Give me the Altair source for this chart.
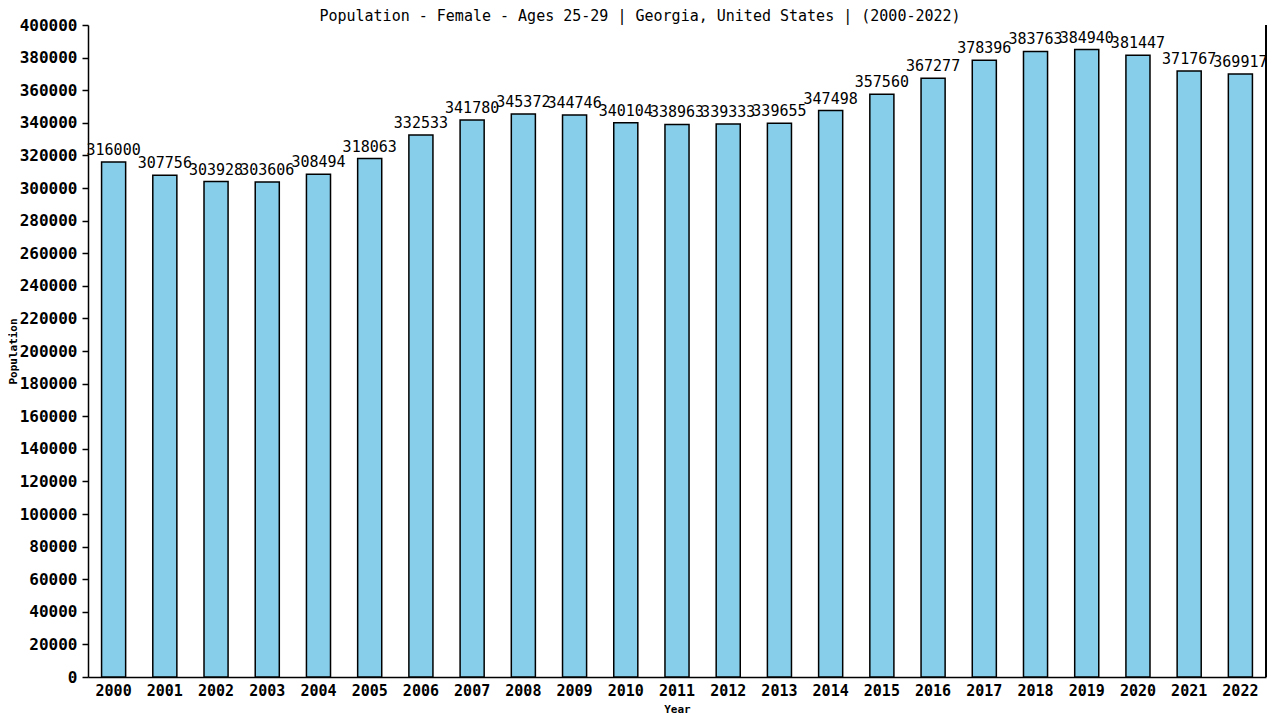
import altair as alt
import pandas as pd

years = [str(y) for y in range(2000, 2023)]
population = [316000, 307756, 303928, 303606, 308494, 318063, 332533, 341780,
              345372, 344746, 340104, 338963, 339333, 339655, 347498, 357560,
              367277, 378396, 383763, 384940, 381447, 371767, 369917]
y_ticks = list(range(0, 400001, 20000))

df = pd.DataFrame({"Year": years, "Population": population})

FONT = "DejaVu Sans Mono"
W, H = 1178, 652

base = alt.Chart(df).encode(
    x=alt.X("Year:N", sort=years,
            scale=alt.Scale(paddingInner=0.53, paddingOuter=0.265),
            axis=alt.Axis(title="Year", labelAngle=0, ticks=False,
                          labelFont=FONT, labelFontSize=15, labelFontWeight="bold",
                          labelColor="black", labelPadding=6,
                          titleFont=FONT, titleFontSize=11, titleFontWeight="bold",
                          titleColor="black", titlePadding=5,
                          domainColor="black", domainWidth=1.5)),
    y=alt.Y("Population:Q",
            scale=alt.Scale(domain=[0, 400000], nice=False),
            axis=alt.Axis(title="Population", values=y_ticks,
                          grid=False, format="d", tickSize=6, tickColor="black",
                          tickWidth=1.5, labelOverlap=False,
                          labelFont=FONT, labelFontSize=16, labelFontWeight="bold",
                          labelColor="black", labelPadding=5,
                          titleFont=FONT, titleFontSize=11, titleFontWeight="bold",
                          titleColor="black", titlePadding=1,
                          domainColor="black", domainWidth=1.5)),
)

bars = base.mark_bar(fill="#87CEEB", stroke="black", strokeWidth=1.5)

labels = base.mark_text(font=FONT, fontSize=15, color="black",
                        baseline="bottom", dy=-4).encode(
    text=alt.Text("Population:Q", format="d"),
)

right_line = alt.Chart(df).mark_rule(color="black", strokeWidth=1.5).encode(
    x=alt.value(W), y=alt.value(0), y2=alt.value(H)
)

chart = alt.layer(bars, labels, right_line).properties(
    width=W, height=H,
    background="white",
    title=alt.TitleParams(
        "Population - Female - Ages 25-29 | Georgia, United States |  (2000-2022)",
        font=FONT, fontSize=15, fontWeight="normal", color="black",
        anchor="middle", dx=-37, dy=9, offset=2),
    autosize=alt.AutoSizeParams(type="none"),
    padding={"left": 80, "top": 17, "right": 6, "bottom": 40},
).configure_view(strokeWidth=0)

chart.save("out.html", embed_options={"renderer": "svg", "actions": False})
